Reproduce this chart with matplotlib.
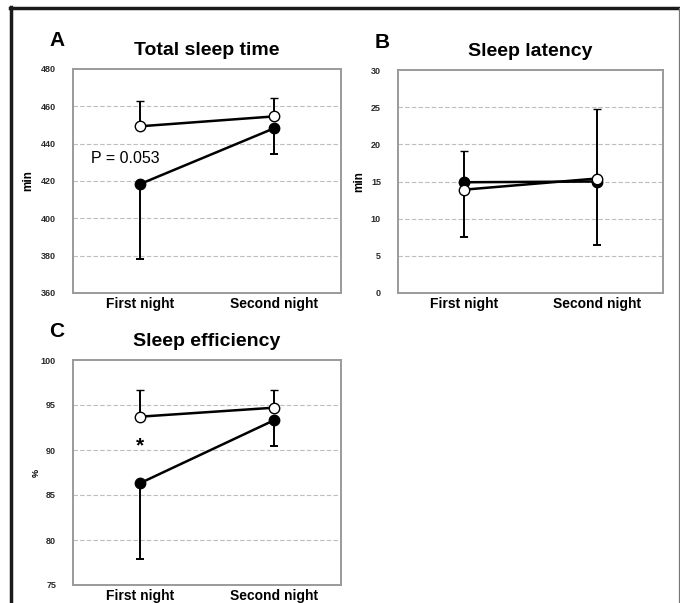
import matplotlib
matplotlib.use("Agg")
from matplotlib import pyplot as plt
from matplotlib.lines import Line2D

nights = ["First night", "Second night"]

# total sleep time (min): filled = one group, open = other group
tst_filled = [418.3, 448.2]
tst_filled_err = [39.9, 13.7]      # drawn downward
tst_open = [449.3, 454.6]
tst_open_err = [13.5, 9.6]         # drawn upward

# sleep latency (min)
lat_filled = [14.9, 15.0]
lat_filled_err = [7.4, 8.6]
lat_open = [13.9, 15.4]
lat_open_err = [5.2, 9.4]

# sleep efficiency (%)
eff_filled = [86.3, 93.3]
eff_filled_err = [8.4, 2.8]
eff_open = [93.7, 94.7]
eff_open_err = [3.0, 2.0]

plt.rcParams["font.family"] = ["Liberation Sans", "DejaVu Sans"]

SPINE_COL = "#9a9a9a"
GRID_COL = "#bdbdbd"


def draw_panel(ax, filled, filled_err, opn, opn_err, ylim, step, ylabel, ylabel_size, ylabel_pad, title, letter):
    x = [0, 1]
    ax.errorbar(x, filled, yerr=[filled_err, [0, 0]], color="black", lw=1.8,
                marker="o", ms=7.5, mfc="black", mec="black",
                elinewidth=1.4, capsize=3.2, capthick=1.4, zorder=3)
    ax.errorbar(x, opn, yerr=[[0, 0], opn_err], color="black", lw=1.8,
                marker="o", ms=7.5, mfc="white", mec="black", mew=1.0,
                elinewidth=1.4, capsize=3.2, capthick=1.4, zorder=4)
    ax.set_xlim(-0.5, 1.5)
    ax.set_ylim(*ylim)
    ticks = list(range(ylim[0], ylim[1] + 1, step))
    ax.set_yticks(ticks)
    for t in ticks[1:-1]:
        ax.axhline(t, color=GRID_COL, lw=0.8, ls=(0, (4, 2)), zorder=1)
    ax.set_xticks(x)
    ax.set_xticklabels(nights, fontsize=10, fontweight="bold")
    ax.tick_params(axis="y", length=0, pad=12, labelsize=6.5, labelcolor="#2a2a2a")
    for lab in ax.get_yticklabels():
        lab.set_fontweight("bold")
    ax.tick_params(axis="x", length=0, pad=3)
    for s in ax.spines.values():
        s.set_color(SPINE_COL)
        s.set_linewidth(1.4)
    ax.set_ylabel(ylabel, fontsize=ylabel_size, fontweight="bold", labelpad=ylabel_pad)
    ax.set_title(title, fontsize=14, fontweight="bold", pad=10)
    ax.text(-0.06, 1.125, letter, transform=ax.transAxes, fontsize=15,
            fontweight="bold", ha="center", va="center")


fig = plt.figure(figsize=(6.8, 6.03), dpi=100)
W, H = 680.0, 603.0


def add_px_axes(left, top, right, bottom):
    return fig.add_axes([left / W, 1 - bottom / H, (right - left) / W, (bottom - top) / H])


axA = add_px_axes(72.7, 69, 341, 293)
axB = add_px_axes(397.7, 70, 663, 293)
axC = add_px_axes(72.7, 360, 341, 585)

draw_panel(axA, tst_filled, tst_filled_err, tst_open, tst_open_err,
           (360, 480), 20, "min", 8.5, 5, "Total sleep time", "A")
axA.text(-0.11, 432.3, "P = 0.053", fontsize=11.5, ha="center", va="center")

draw_panel(axB, lat_filled, lat_filled_err, lat_open, lat_open_err,
           (0, 30), 5, "min", 8.5, 4, "Sleep latency", "B")

draw_panel(axC, eff_filled, eff_filled_err, eff_open, eff_open_err,
           (75, 100), 5, "%", 6.5, 0, "Sleep efficiency", "C")
axC.text(0, 90.5, "*", fontsize=15, fontweight="bold", ha="center", va="center")

# outer frame of the figure image
fig.add_artist(Line2D([11 / W, 11 / W], [0, 1 - 7 / H], transform=fig.transFigure,
                      color="#1a1a1a", lw=2.5))
fig.add_artist(Line2D([10 / W, 1], [1 - 8 / H, 1 - 8 / H], transform=fig.transFigure,
                      color="#1a1a1a", lw=2.5))
fig.add_artist(Line2D([679 / W, 679 / W], [0, 1 - 8 / H], transform=fig.transFigure,
                      color="#777777", lw=0.9))

fig.savefig("out.png", dpi=100)
